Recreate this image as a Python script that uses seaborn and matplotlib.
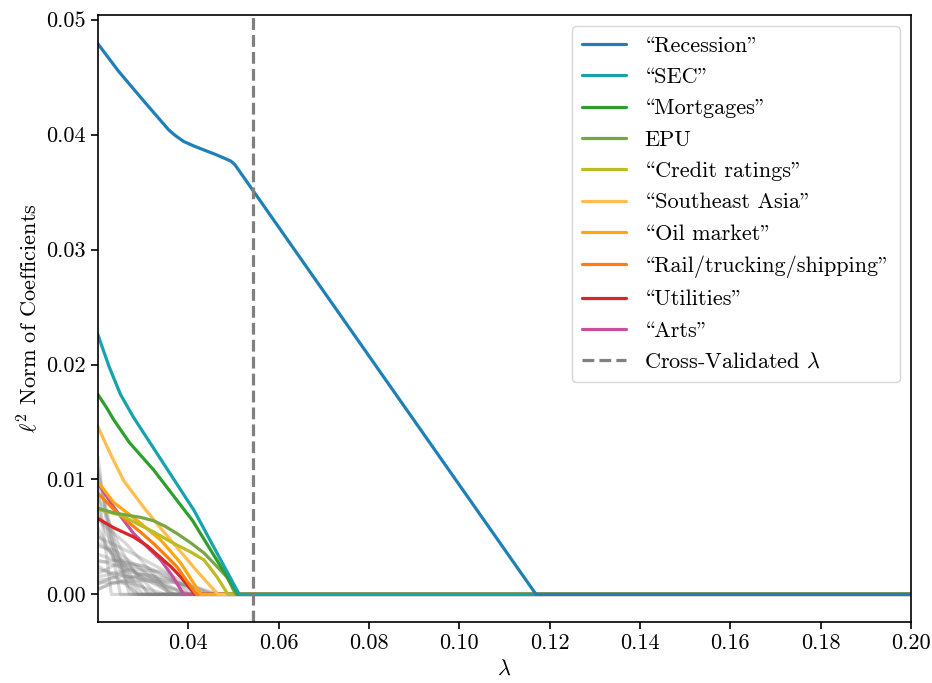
import numpy as np
import pandas as pd
import matplotlib
matplotlib.use("Agg")
import matplotlib.pyplot as plt
import seaborn as sns
from matplotlib.lines import Line2D

# ---------------- data ----------------
# In the Computer Modern (OT1) font, '\\' holds the opening and '"' the closing double quote
labels = ["\\Recession\"", "\\SEC\"", "\\Mortgages\"", "EPU",
          "\\Credit ratings\"", "\\Southeast Asia\"", "\\Oil market\"",
          "\\Rail/trucking/shipping\"", "\\Utilities\"", "\\Arts\""]
colors = ["#1f80b8", "#17a2ad", "#2ca02c", "#77a743", "#bcbd22",
          "#ffbe4f", "#ffa70f", "#ff7f0e", "#d62728", "#c74f9c"]

recession_x = [0.02, 0.0246, 0.0302, 0.0357, 0.0372, 0.039, 0.0413, 0.0465, 0.0494, 0.0503, 0.117, 0.2]
recession_y = [0.0479, 0.0455, 0.0429, 0.0404, 0.0399, 0.0394, 0.0390, 0.0382, 0.0377, 0.0374, 0.0, 0.0]
sec_x = [0.02, 0.0225, 0.025, 0.0279, 0.0413, 0.0513, 0.2]
sec_y = [0.0226, 0.0198, 0.0174, 0.0154, 0.0073, 0.0, 0.0]
mortgages_x = [0.02, 0.022, 0.0235, 0.027, 0.0324, 0.041, 0.051, 0.2]
mortgages_y = [0.0174, 0.0162, 0.0152, 0.0132, 0.0108, 0.0064, 0.0, 0.0]
epu_x = [0.02, 0.0235, 0.0264, 0.0295, 0.0324, 0.035, 0.0375, 0.0405, 0.0435, 0.0462, 0.0486, 0.0505, 0.2]
epu_y = [0.0075, 0.0071, 0.0069, 0.0067, 0.0064, 0.0059, 0.0053, 0.0045, 0.0036, 0.0025, 0.0015, 0.0, 0.0]
credit_x = [0.02, 0.025, 0.028, 0.032, 0.037, 0.0405, 0.0435, 0.0464, 0.0488, 0.2]
credit_y = [0.0074, 0.0069, 0.0063, 0.0055, 0.0044, 0.0037, 0.0030, 0.0015, 0.0, 0.0]
seasia_x = [0.02, 0.0228, 0.0257, 0.0301, 0.0338, 0.0375, 0.042, 0.0466, 0.2]
seasia_y = [0.0146, 0.0122, 0.0099, 0.0076, 0.0058, 0.0041, 0.0020, 0.0, 0.0]
oil_x = [0.02, 0.0235, 0.0288, 0.034, 0.0384, 0.0428, 0.2]
oil_y = [0.0098, 0.0080, 0.0064, 0.0047, 0.0027, 0.0, 0.0]
rail_x = [0.02, 0.0235, 0.0264, 0.0295, 0.0324, 0.035, 0.0375, 0.0418, 0.2]
rail_y = [0.0088, 0.0074, 0.0064, 0.0054, 0.0044, 0.0034, 0.0024, 0.0, 0.0]
utilities_x = [0.02, 0.0235, 0.0279, 0.031, 0.0339, 0.0362, 0.0384, 0.0415, 0.2]
utilities_y = [0.0066, 0.0058, 0.0050, 0.0042, 0.0032, 0.0024, 0.0015, 0.0, 0.0]
arts_x = [0.02, 0.0235, 0.0279, 0.031, 0.0339, 0.0365, 0.039, 0.2]
arts_y = [0.0097, 0.0076, 0.0053, 0.0041, 0.0030, 0.0016, 0.0, 0.0]

series_x = [recession_x, sec_x, mortgages_x, epu_x, credit_x, seasia_x, oil_x, rail_x, utilities_x, arts_x]
series_y = [recession_y, sec_y, mortgages_y, epu_y, credit_y, seasia_y, oil_y, rail_y, utilities_y, arts_y]

# other (unlabelled) coefficient paths, shown in grey
gray_x = [
    [0.02, 0.022, 0.025], [0.02, 0.023, 0.027], [0.02, 0.025, 0.031],
    [0.02, 0.026, 0.033, 0.036], [0.02, 0.028, 0.035, 0.04], [0.02, 0.025, 0.032, 0.038, 0.043],
    [0.02, 0.027, 0.034, 0.041, 0.045], [0.02, 0.024, 0.03, 0.036], [0.02, 0.03, 0.037, 0.044],
    [0.02, 0.026, 0.031, 0.04], [0.02, 0.022, 0.026, 0.03], [0.02, 0.025, 0.03, 0.035, 0.042],
    [0.02, 0.023, 0.028], [0.02, 0.03, 0.038, 0.046], [0.02, 0.024, 0.029, 0.034, 0.039],
    [0.02, 0.021, 0.023], [0.02, 0.027, 0.033], [0.02, 0.026, 0.032, 0.037],
    [0.02, 0.022, 0.0245, 0.028, 0.032], [0.02, 0.028, 0.036, 0.041], [0.02, 0.025, 0.029],
    [0.02, 0.023, 0.027, 0.031, 0.035], [0.02, 0.0215, 0.024, 0.029],
    [0.02, 0.026, 0.034, 0.042, 0.047], [0.02, 0.024, 0.031, 0.037],
]
gray_y = [
    [0.0120, 0.0060, 0.0], [0.0105, 0.0055, 0.0], [0.0085, 0.0040, 0.0],
    [0.0065, 0.0045, 0.0015, 0.0], [0.0050, 0.0035, 0.0020, 0.0], [0.0028, 0.0030, 0.0022, 0.0010, 0.0],
    [0.0015, 0.0022, 0.0020, 0.0008, 0.0], [0.0042, 0.0038, 0.0020, 0.0], [0.0005, 0.0018, 0.0012, 0.0],
    [0.0022, 0.0016, 0.0012, 0.0], [0.0075, 0.0052, 0.0020, 0.0], [0.0035, 0.0028, 0.0025, 0.0015, 0.0],
    [0.0058, 0.0035, 0.0], [0.0010, 0.0012, 0.0010, 0.0], [0.0018, 0.0026, 0.0024, 0.0012, 0.0],
    [0.0095, 0.0062, 0.0], [0.0045, 0.0025, 0.0], [0.0009, 0.0020, 0.0016, 0.0],
    [0.0068, 0.0060, 0.0035, 0.0012, 0.0], [0.0030, 0.0020, 0.0006, 0.0], [0.0025, 0.0012, 0.0],
    [0.0004, 0.0010, 0.0010, 0.0005, 0.0], [0.0110, 0.0078, 0.0030, 0.0],
    [0.0012, 0.0016, 0.0013, 0.0006, 0.0], [0.0052, 0.0030, 0.0012, 0.0],
]
gray_end_x = 0.2

cv_lambda = 0.0544
x_ticks = [0.04, 0.06, 0.08, 0.10, 0.12, 0.14, 0.16, 0.18, 0.20]
y_ticks = [0.00, 0.01, 0.02, 0.03, 0.04, 0.05]

# ---------------- style ----------------
sns.set_style("ticks")
plt.rcParams["font.family"] = ["cmr10", "DejaVu Serif"]
plt.rcParams["mathtext.fontset"] = "cm"
plt.rcParams["axes.unicode_minus"] = False
plt.rcParams["axes.formatter.use_mathtext"] = True
plt.rcParams["font.size"] = 16
plt.rcParams["axes.edgecolor"] = "black"
plt.rcParams["xtick.color"] = "black"
plt.rcParams["ytick.color"] = "black"
plt.rcParams["text.color"] = "black"
plt.rcParams["axes.labelcolor"] = "black"

fig = plt.figure(figsize=(9.32, 6.83), dpi=100)
ax = fig.add_axes([0.105, 0.0893, 0.8725, 0.8887])

LW = 2.3
for gx, gy in zip(gray_x, gray_y):
    df = pd.DataFrame({"x": gx + [gray_end_x], "y": gy + [0.0]})
    sns.lineplot(data=df, x="x", y="y", ax=ax, color="gray", alpha=0.3,
                 lw=LW, sort=False, estimator=None, legend=False)

for i in range(len(labels) - 1, -1, -1):
    df = pd.DataFrame({"x": series_x[i], "y": series_y[i]})
    sns.lineplot(data=df, x="x", y="y", ax=ax, color=colors[i], lw=LW,
                 sort=False, estimator=None, legend=False)

handles = [Line2D([], [], color=c, lw=LW) for c in colors]
ax.axvline(cv_lambda, color="gray", ls="--", lw=LW)
handles.append(Line2D([], [], color="gray", ls="--", lw=LW))
leg_labels = labels + [r"Cross-Validated $\lambda$"]

ax.set_xlim(0.02, 0.2)
ax.set_ylim(-0.0024, 0.0504)
ax.set_xticks(x_ticks)
ax.set_xticklabels([f"{t:.2f}" for t in x_ticks])
ax.set_yticks(y_ticks)
ax.set_yticklabels([f"{t:.2f}" for t in y_ticks])
ax.set_xlabel(r"$\lambda$")
ax.set_ylabel(r"$\ell^2$ Norm of Coefficients")
for s in ax.spines.values():
    s.set_visible(True)
    s.set_linewidth(1.2)
ax.tick_params(width=1.2, length=5)

ax.legend(handles, leg_labels, loc="upper right", frameon=True, fontsize=16,
          labelspacing=0.53, borderaxespad=0.5, borderpad=0.45)

fig.savefig("out.png", dpi=100)
